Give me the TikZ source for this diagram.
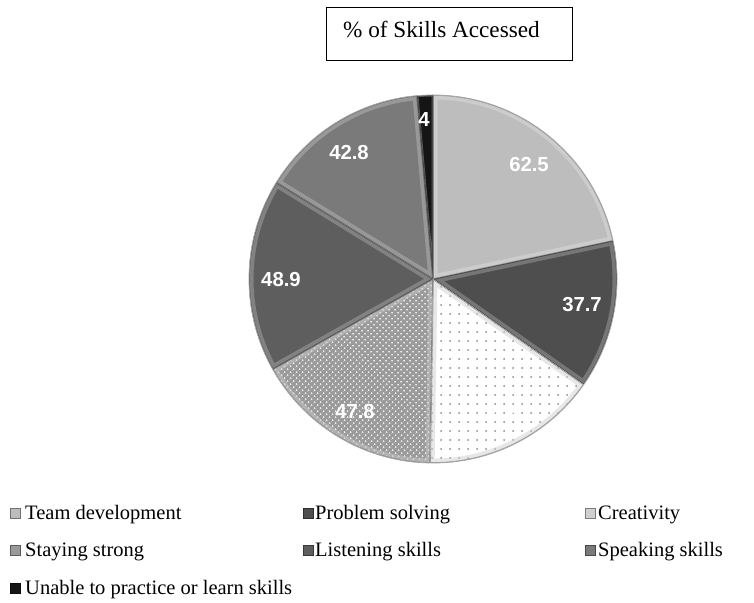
\documentclass[tikz,border=0pt]{standalone}
\usepackage{fontspec}
\setmainfont{Liberation Serif}
\newfontfamily\lblfont{Liberation Sans}
\usetikzlibrary{patterns.meta}
\definecolor{cTeam}{HTML}{BDBDBD}
\definecolor{cProb}{HTML}{4E4E4E}
\definecolor{cCrea}{HTML}{FFFFFF}
\definecolor{cCreaB}{HTML}{8A8A8A}
\definecolor{cCreaE}{HTML}{AAAAAA}
\definecolor{cStay}{HTML}{9A9A9A}
\definecolor{cList}{HTML}{5E5E5E}
\definecolor{cSpeak}{HTML}{7A7A7A}
\definecolor{cUnab}{HTML}{151515}
\definecolor{cUnabB}{HTML}{505050}
\definecolor{cCreaM}{HTML}{D0D0D0}
% #1 start angle, #2 end angle, #3 fill options, #4 bevel colour, #5 bevel width
\newcommand\myslice[5]{%
  \begin{scope}
    \clip (433,323) -- ++(#1:184) arc[start angle=#1,end angle=#2,radius=184] -- cycle;
    \path[#3] (433,323) -- ++(#1:184) arc[start angle=#1,end angle=#2,radius=184] -- cycle;
    \draw[line width=#5,#4!55!white,opacity=.5] (433,323) -- ++(#1:184) arc[start angle=#1,end angle=#2,radius=184] -- cycle;
    \draw[line width=1.6pt,#4!80!black,opacity=.8] (433,323) -- ++(#1:184) arc[start angle=#1,end angle=#2,radius=184] -- cycle;
  \end{scope}}
\tikzset{
  vallabel/.style={text=white,inner sep=0pt,font=\lblfont\bfseries\fontsize{20.3}{24}\selectfont},
  legtext/.style={anchor=base west,inner sep=0pt,font=\fontsize{20.5}{24}\selectfont},
  legmark/.style={minimum size=10pt,inner sep=0pt,draw=#1!60!black,fill=#1,line width=0.5pt},
}
\begin{document}
\begin{tikzpicture}[x=1pt,y=1pt]
\useasboundingbox (0,0) rectangle (754,602);
% title
\node[draw,line width=0.8pt,minimum width=246pt,minimum height=53pt,inner sep=0pt] (titlebox) at (449,568.5) {};
\node[anchor=base west,inner sep=0pt,font=\fontsize{23.2}{27}\selectfont] (title) at (343,564) {\% of Skills Accessed};
% pie
\myslice{90}{12}{fill=cTeam}{cTeam}{9pt}
\myslice{12}{-35}{fill=cProb}{cProb}{9pt}
\myslice{-35}{-90.9}{fill=white,postaction={pattern={Dots[distance=9pt,radius=1pt]},pattern color=cCreaB}}{cCreaE}{9pt}
\myslice{-90.9}{-150.6}{fill=cStay,postaction={pattern={Dots[distance=4pt,radius=1.1pt,angle=45]},pattern color=white!85!gray}}{cStay}{9pt}
\myslice{-150.6}{-211.6}{fill=cList}{cList}{9pt}
\myslice{-211.6}{-265}{fill=cSpeak}{cSpeak}{9pt}
\myslice{-265}{-270}{fill=cUnab}{cUnabB}{3pt}
\draw[gray!70,line width=0.8pt] (433,323) circle[radius=184];
% values
\node[vallabel] (v1) at (529,437) {62.5};
\node[vallabel] (v2) at (582,297) {37.7};
\node[vallabel] (v3) at (500,189) {44.8};
\node[vallabel] (v4) at (355,190) {47.8};
\node[vallabel] (v5) at (281,322) {48.9};
\node[vallabel] (v6) at (349,449) {42.8};
\node[vallabel] (v7) at (424,482) {4};
% legend
\node[legmark=cTeam] (m1) at (15.5,89) {};
\node[legtext] (t1) at (25,83) {Team development};
\node[legmark=cProb] (m2) at (308,89) {};
\node[legtext] (t2) at (315,83) {Problem solving};
\node[legmark=cCreaM] (m3) at (590,89) {};
\node[legtext] (t3) at (598,83) {Creativity};
\node[legmark=cStay] (m4) at (15.5,51.5) {};
\node[legtext] (t4) at (25,45.5) {Staying strong};
\node[legmark=cList] (m5) at (308,51.5) {};
\node[legtext] (t5) at (315,45.5) {Listening skills};
\node[legmark=cSpeak] (m6) at (590,51.5) {};
\node[legtext] (t6) at (598,45.5) {Speaking skills};
\node[legmark=cUnab] (m7) at (15.5,14) {};
\node[legtext] (t7) at (25,8) {Unable to practice or learn skills};
\end{tikzpicture}
\end{document}
